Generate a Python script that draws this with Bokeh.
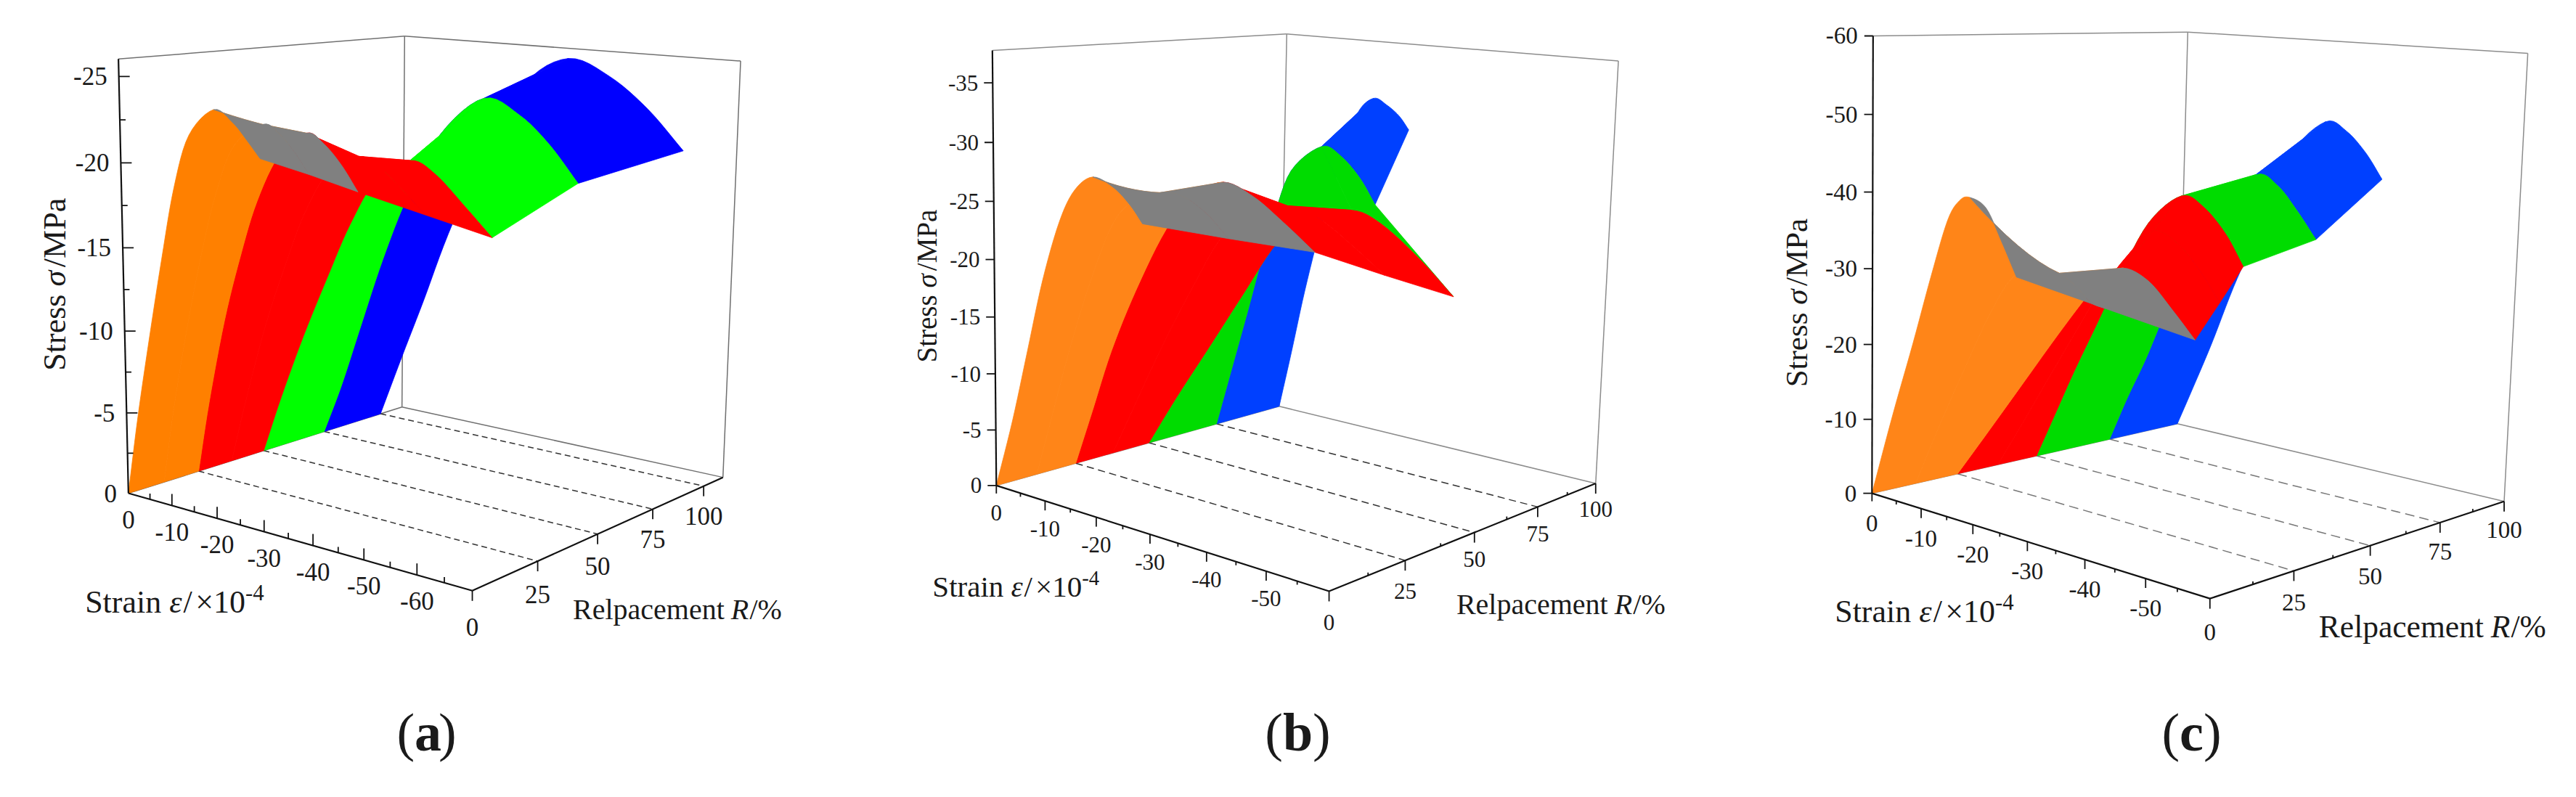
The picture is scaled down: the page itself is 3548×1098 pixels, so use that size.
import numpy as np
from bokeh.plotting import figure
from bokeh.models import Range1d
from bokeh.embed import file_html
from bokeh.resources import INLINE
from bokeh.core.properties import value

# ---------------- data ----------------
replacement_levels = [0, 12.5, 25, 37.5, 50, 75, 100]
peak_index = 6

strain_a = [[0, -2.6, -5.5, -8.7, -11.7, -15.1, -20.4, -24.3, -27.2, -29.8],
            [0, -2.5, -5.8, -9.3, -12.7, -16.8, -22.9, -26.2, -29.5, -32.3],
            [0, -2.7, -6.5, -10.3, -14.0, -18.8, -24.6, -28.2, -31.8, -35.1],
            [0, -3.5, -8.0, -12.6, -16.9, -22.2, -28.5, -32.8, -37.6, -42.0],
            [0, -4.3, -9.5, -15.0, -19.8, -25.6, -32.4, -37.4, -43.5, -48.9],
            [0, -4.2, -8.7, -13.6, -19.0, -26.0, -35.0, -42.2, -48.3, -54.0],
            [0, -5.1, -10.1, -15.6, -23.3, -31.8, -40.7, -49.0, -56.7, -63.7]]
stress_a = [[0, -4.9, -9.7, -14.7, -19.0, -22.1, -23.7, -23.1, -22.2, -21.3],
            [0, -4.7, -9.8, -14.5, -18.3, -21.3, -22.7, -22.3, -21.3, -20.2],
            [0, -4.6, -10.0, -14.2, -17.6, -20.5, -22.0, -21.5, -20.4, -19.0],
            [0, -4.2, -9.1, -13.2, -16.6, -19.4, -20.5, -20.0, -18.8, -17.6],
            [0, -3.9, -8.2, -12.3, -15.7, -18.8, -20.1, -19.5, -17.8, -16.2],
            [0, -3.5, -7.8, -12.4, -16.7, -20.9, -23.4, -22.6, -21.0, -18.9],
            [0, -4.4, -8.6, -13.4, -19.1, -23.8, -25.6, -24.7, -22.9, -20.6]]

strain_b = [[0, -3.5, -6.6, -9.7, -13.0, -15.9, -19.3, -23.1, -26.1, -28.3],
            [0, -3.2, -6.7, -10.7, -15.1, -19.0, -24.0, -28.0, -32.3, -36.1],
            [0, -3.4, -7.3, -12.1, -17.8, -22.8, -28.2, -33.5, -38.7, -44.1],
            [0, -4.5, -9.7, -15.2, -21.3, -26.8, -33.0, -38.3, -44.1, -49.6],
            [0, -5.7, -12.2, -18.4, -24.9, -30.8, -37.9, -43.1, -49.6, -55.2],
            [0, -3.3, -6.2, -8.5, -11.0, -14.3, -20.0, -23.6, -27.3, -30.2],
            [0, -2.4, -4.9, -8.0, -11.5, -14.5, -17.6, -20.2, -22.6, -24.5]]
stress_b = [[0, -6.3, -12.7, -19.1, -24.3, -27.1, -28.4, -27.8, -26.6, -25.3],
            [0, -5.7, -11.9, -18.1, -23.6, -25.9, -27.0, -27.0, -25.9, -24.2],
            [0, -5.2, -11.2, -17.1, -22.9, -26.1, -27.7, -26.9, -25.2, -23.2],
            [0, -5.1, -10.9, -16.5, -22.1, -24.6, -25.6, -25.0, -23.2, -21.2],
            [0, -5.1, -10.6, -15.9, -21.3, -23.8, -25.1, -24.3, -21.9, -19.3],
            [0, -6.4, -12.0, -16.6, -21.2, -26.0, -28.6, -28.0, -26.2, -24.0],
            [0, -6.0, -12.5, -19.4, -25.7, -30.6, -32.3, -31.8, -30.9, -29.7]]

strain_c = [[0, -4.2, -8.2, -11.6, -14.7, -16.9, -18.8, -21.8, -24.6, -27.4],
            [0, -5.0, -10.1, -14.8, -18.8, -23.3, -27.1, -30.2, -32.7, -35.2],
            [0, -6.3, -12.7, -18.3, -23.3, -27.1, -30.9, -35.3, -39.5, -43.3],
            [0, -5.0, -10.0, -14.9, -19.4, -24.4, -28.8, -33.0, -37.1, -40.6],
            [0, -3.6, -7.3, -11.5, -15.5, -21.0, -26.8, -30.7, -34.7, -37.9],
            [0, -3.5, -7.0, -10.6, -14.6, -20.0, -26.9, -30.8, -34.3, -37.8],
            [0, -3.1, -6.6, -10.6, -15.1, -20.9, -26.9, -30.7, -34.3, -37.3]]
stress_c = [[0, -11.3, -21.4, -30.4, -37.9, -40.6, -41.2, -40.2, -36.5, -32.4],
            [0, -9.2, -18.0, -25.7, -30.6, -32.3, -32.1, -30.8, -29.2, -28.8],
            [0, -7.2, -14.6, -21.1, -26.7, -30.6, -32.5, -31.4, -28.3, -25.2],
            [0, -6.9, -14.0, -20.9, -27.1, -32.6, -36.3, -35.3, -32.2, -28.6],
            [0, -6.6, -13.4, -20.6, -27.5, -35.9, -40.1, -39.1, -36.0, -32.1],
            [0, -6.9, -13.2, -20.5, -27.7, -37.1, -42.0, -40.9, -37.9, -34.3],
            [0, -6.3, -13.6, -22.7, -31.7, -43.5, -48.6, -47.6, -44.8, -41.4]]

strain_ticks = {'a': [0, -10, -20, -30, -40, -50, -60], 'b': [0, -10, -20, -30, -40, -50], 'c': [0, -10, -20, -30, -40, -50]}
stress_ticks = {'a': [0, -5, -10, -15, -20, -25], 'b': [0, -5, -10, -15, -20, -25, -30, -35], 'c': [0, -10, -20, -30, -40, -50, -60]}
replacement_ticks = [0, 25, 50, 75, 100]
band_colors = {'a': ['#FF8000', '#FF8000', '#FF0000', '#FF0000', '#00FF00', '#0000FF'],
               'b': ['#FF8518', '#FF8518', '#FF0000', '#FF0000', '#00DC00', '#0040FF'],
               'c': ['#FF8518', '#FF8518', '#FF0000', '#FF0000', '#00DC00', '#0040FF']}
back_face_color = '#808080'

# ---------------- view of each 3-D panel ----------------
PANELS = {
 'a': dict(off=0, kx=1.329, ky=1.427, strain=strain_a, stress=stress_a, emin=-70, rmax=110, smax=-26,
  anchors=[(0,0,0,233,968),(-10,0,0,313,992),(-20,0,0,398,1018),(-30,0,0,484,1045),(-40,0,0,574,1072),(-50,0,0,669,1101),(-60,0,0,769,1132),(-70,0,0,860,1160),
           (-70,25,0,979,1103),(-70,50,0,1091,1049),(-70,75,0,1194,1000),(-70,100,0,1287,955),(-70,110,0,1324,938),
           (0,25,0,362,925),(0,50,0,483,885),(0,75,0,595,848),(0,100,0,695,812),(0,110,0,735,800),
           (0,0,-5,229,810),(0,0,-10,226,650),(0,0,-15,223,487),(0,0,-20,220,320),(0,0,-25,218,150),(0,0,-26,217,115),
           (0,110,-26,740,72),(-70,110,-26,1355,117)],
  dashes=[25, 50, 75, 100], dash="8 5", dash_color="#333333", back="#707070", tick_size=35, s_gap=16, e_dy=36,
  r_dy=[50, 46, 44, 42, 41], r_minor=0, s_major=15, s_minor=8, e_major=-16, e_minor=-8, e_zero=0,
  stress_title=(97, 728, 44), strain_title=(155, 1180, 44), repl_title=(1048, 1195, 40), caption=('a', 587)),
 'b': dict(off=1180, kx=1.329, ky=1.427, strain=strain_b, stress=stress_b, emin=-60, rmax=100, smax=-37.7,
  anchors=[(0,0,0,255,955),(-10,0,0,345,985),(-20,0,0,438,1018),(-30,0,0,537,1050),(-40,0,0,640,1085),(-50,0,0,748,1123),(-60,0,0,862,1160),
           (-60,25,0,1003,1100),(-60,50,0,1130,1047),(-60,75,0,1245,995),(-60,100,0,1353,950),
           (0,25,0,400,910),(0,50,0,535,870),(0,75,0,658,832),(0,100,0,772,797),
           (0,0,-5,254,845),(0,0,-10,253,735),(0,0,-15,252,622),(0,0,-20,251,508),(0,0,-25,250,393),(0,0,-30,249,278),(0,0,-35,248.5,162),(0,0,-37.7,248,100),
           (0,100,-37.7,785,67),(-60,100,-37.7,1395,120)],
  dashes=[25, 50, 75], dash="10 6", dash_color="#333333", back="#8c8c8c", tick_size=31, s_gap=20, e_dy=38,
  r_dy=[43, 42, 37, 37, 35], r_minor=-4, s_major=-12, s_minor=0, e_major=13, e_minor=5, e_zero=11,
  stress_title=(125, 712, 39), strain_title=(138, 1150, 41), repl_title=(1097, 1185, 40), caption=('b', 1787)),
 'c': dict(off=2360, kx=1.32, ky=1.417, strain=strain_c, stress=stress_c, emin=-60, rmax=100, smax=-60,
  anchors=[(0,0,0,288,962),(-10,0,0,378,992),(-20,0,0,470,1025),(-30,0,0,570,1060),(-40,0,0,675,1095),(-50,0,0,785,1128),(-60,0,0,902,1165),
           (-60,25,0,1055,1112),(-60,50,0,1193,1065),(-60,75,0,1320,1020),(-60,100,0,1437,978),
           (0,25,0,443,923),(0,50,0,587,888),(0,75,0,720,857),(0,100,0,842,827),
           (0,0,-10,288,817),(0,0,-20,288,670),(0,0,-30,288,523),(0,0,-40,288,375),(0,0,-50,289,223),(0,0,-60,290,70),
           (0,100,-60,862,62),(-60,100,-60,1480,103)],
  dashes=[25, 50, 75], dash="13 7", dash_color="#777777", back="#8c8c8c", tick_size=33, s_gap=21, e_dy=41,
  r_dy=[46, 44, 42, 40, 39], r_minor=-4, s_major=-12, s_minor=0, e_major=13, e_minor=5, e_zero=11,
  stress_title=(148, 755, 43), strain_title=(220, 1190, 44), repl_title=(1100, 1220, 43.5), caption=('c', 3018)),
}

FONT = value("Liberation Serif")
WIDTHS = {'S': .556, 't': .278, 'r': .333, 'a': .444, 'i': .278, 'n': .5, ' ': .25, 'e': .444, 's': .389, 'l': .278,
          'p': .5, 'c': .444, 'm': .778, 'M': .889, 'P': .556, 'R': .64, '/': .278, '×': .564, '-': .333, '%': .833,
          'σ': .6, 'ε': .44, '(': .333, ')': .333, 'b': .556}
BASELINE_SHIFT = 0.29   # the rendered alphabetic baseline sits this many em lower

def twidth(txt):
    return sum(WIDTHS.get(ch, .5) for ch in txt)

def calibrate(pts):
    A, b = [], []
    for (e, r, s, x, y) in pts:
        A.append([e, r, s, 1, 0, 0, 0, 0, -x*e, -x*r, -x*s]); b.append(x)
        A.append([0, 0, 0, 0, e, r, s, 1, -y*e, -y*r, -y*s]); b.append(y)
    m = np.linalg.lstsq(np.array(A, float), np.array(b, float), rcond=None)[0]
    return np.append(m, 1).reshape(3, 4)

def spline(pts, m=6):
    """Catmull-Rom through the projected curve points, m sub-steps per segment."""
    pts = np.array(pts, float)
    q = np.vstack([2*pts[0]-pts[1], pts, 2*pts[-1]-pts[-2]])
    out = []
    for i in range(1, len(q)-2):
        for t in np.linspace(0, 1, m, endpoint=False):
            out.append(0.5*((2*q[i]) + (q[i+1]-q[i-1])*t + (2*q[i-1]-5*q[i]+4*q[i+1]-q[i+2])*t**2
                            + (3*q[i]-q[i-1]-3*q[i+1]+q[i+2])*t**3))
    out.append(pts[-1])
    return np.array(out), m

p = figure(width=3532, height=1082, x_range=Range1d(0, 3532), y_range=Range1d(1082, 0),
           toolbar_location=None, output_backend="svg", min_border=0, outline_line_color=None,
           background_fill_color="white")
p.axis.visible = False
p.grid.visible = False

def rich(x, y, runs, size, vertical=False):
    """Runs of (text, style, scale, raise) laid out from (x, y) on one baseline."""
    pos = 0.0
    for txt, style, scale, rise in runs:
        sz = size*scale
        if vertical:
            px_, py_, ang = x - rise*size - BASELINE_SHIFT*sz, y - pos, np.pi/2
        else:
            px_, py_, ang = x + pos, y - rise*size - BASELINE_SHIFT*sz, 0
        p.text([px_], [py_], text=[txt], angle=ang, text_font=FONT, text_font_style=style,
               text_font_size=f"{sz:.1f}px", text_color="#1a1a1a", text_baseline="alphabetic", text_align="left")
        pos += twidth(txt)*sz

def hline(x, y, d):
    p.line([x, x+d], [y, y], line_color="#111111", line_width=1.8)

def vline(x, y, d):
    p.line([x, x], [y, y+d], line_color="#111111", line_width=1.8)

def fill(poly, col):
    p.patch(poly[:, 0], poly[:, 1], fill_color=col, line_color=col, line_width=0.8)

for key, c in PANELS.items():
    conv = lambda zx, zy, c=c: (c['off'] + zx/c['kx'], zy/c['ky'])
    P = calibrate([(e, r, s, *conv(zx, zy)) for e, r, s, zx, zy in c['anchors']])
    def proj(e, r, s, P=P):
        v = P @ np.array([e, r, s, 1.0])
        return v[0]/v[2], v[1]/v[2]
    def seg(a, b, color, width, dash="solid"):
        pa, pb = proj(*a), proj(*b)
        p.line([pa[0], pb[0]], [pa[1], pb[1]], line_color=color, line_width=width, line_dash=dash)

    emin, rmax, smax = c['emin'], c['rmax'], c['smax']
    # box back faces
    bk = c['back']
    seg((0, rmax, 0), (0, rmax, smax), bk, 1.5)
    seg((0, 0, smax), (0, rmax, smax), bk, 1.5)
    seg((0, rmax, smax), (emin, rmax, smax), bk, 1.5)
    seg((emin, rmax, 0), (emin, rmax, smax), bk, 1.5)
    seg((0, rmax, 0), (emin, rmax, 0), bk, 1.5)
    seg((0, 0, 0), (0, rmax, 0), bk, 1.5)
    for r in c['dashes']:
        seg((0, r, 0), (emin, r, 0), c['dash_color'], 1.5, c['dash'])

    # surface, painted from the far replacement level to the near one
    smooth = []
    for es, ss, r in zip(c['strain'], c['stress'], replacement_levels):
        smooth.append(spline([proj(e, r, s) for e, s in zip(es, ss)]))
    cut = peak_index*smooth[0][1]
    pre, post = slice(0, cut+1), slice(cut, None)
    for j in range(len(replacement_levels)-2, 1, -1):
        A, B = smooth[j][0], smooth[j+1][0]
        for slc in (pre, post):
            fill(np.vstack([A[slc], B[slc][::-1]]), band_colors[key][j])
    # nearest band: first strip bent through the first three levels so its crest line curves;
    # all of the rising face is painted first, the grey falling face over it
    C0, C1, C2 = smooth[0][0], smooth[1][0], smooth[2][0]
    def bent(u):
        return 2*(u-.5)*(u-1)*C0 - 4*u*(u-1)*C1 + 2*u*(u-.5)*C2
    strip = np.array([bent(u) for u in np.linspace(0, .5, 9)])
    A, B = smooth[1][0], smooth[2][0]
    fill(np.vstack([A[pre], B[pre][::-1]]), band_colors[key][1])
    fill(np.vstack([strip[0][pre], strip[1:, cut], strip[-1][pre][::-1][1:]]), band_colors[key][0])
    fill(np.vstack([A[post], B[post][::-1]]), back_face_color)
    fill(np.vstack([strip[0][post][::-1], strip[1:, cut], strip[-1][post][1:]]), back_face_color)

    # front axes
    seg((0, 0, 0), (0, 0, smax), "#111111", 2.2)
    seg((0, 0, 0), (emin, 0, 0), "#111111", 2.2)
    seg((emin, 0, 0), (emin, rmax, 0), "#111111", 2.2)

    # stress ticks
    for sv in stress_ticks[key]:
        x, y = proj(0, 0, sv)
        if sv != 0 or c['s_major'] < 0:
            hline(x, y, c['s_major'])
        p.text([x - c['s_gap']], [y], text=[str(sv)], text_font=FONT, text_font_size=f"{c['tick_size']}px",
               text_color="#1a1a1a", text_align="right", text_baseline="middle")
    if c['s_minor']:
        st = stress_ticks[key][1] - stress_ticks[key][0]
        for sv in stress_ticks[key]:
            sm = sv + st/2
            if sm > smax:
                x, y = proj(0, 0, sm)
                hline(x, y, c['s_minor'])
    # strain ticks
    for ev in strain_ticks[key]:
        x, y = proj(ev, 0, 0)
        if ev != 0:
            vline(x, y, c['e_major'])
        elif c['e_zero']:
            vline(x, y, c['e_zero'])
        xm, ym = proj(ev - 5, 0, 0)
        vline(xm, ym, c['e_minor'])
        p.text([x], [y + c['e_dy']], text=[str(ev)], text_font=FONT, text_font_size=f"{c['tick_size']}px",
               text_color="#1a1a1a", text_align="center", text_baseline="middle")
    # replacement ticks
    for rv, dy in zip(replacement_ticks, c['r_dy']):
        x, y = proj(emin, rv, 0)
        vline(x, y, 14)
        p.text([x], [y + dy], text=[str(rv)], text_font=FONT, text_font_size=f"{c['tick_size']}px",
               text_color="#1a1a1a", text_align="center", text_baseline="middle")
        if c['r_minor'] and rv < 100:
            xm, ym = proj(emin, rv + 12.5, 0)
            vline(xm, ym, c['r_minor'])

    # titles
    zx, zy, sz = c['stress_title']
    bx, by = conv(zx, zy)
    rich(bx + 0.33*sz, by, [("Stress ", "normal", 1, 0), ("σ", "italic", 1, 0), ("/MPa", "normal", 1, 0)], sz, vertical=True)
    zx, zy, sz = c['strain_title']
    bx, by = conv(zx, zy)
    rich(bx, by + 0.33*sz, [("Strain ", "normal", 1, 0), ("ε", "italic", 1, 0), ("/", "normal", 1, 0), (" ", "normal", .4, 0),
                            ("×10", "normal", 1, 0), ("-4", "normal", .7, .38)], sz)
    zx, zy, sz = c['repl_title']
    bx, by = conv(zx, zy)
    rich(bx, by + 0.33*sz, [("Relpacement ", "normal", 1, 0), ("R", "italic", 1, 0), ("/%", "normal", 1, 0)], sz)

    letter, cx = c['caption']
    size = 74
    w = (.333*2 + WIDTHS.get(letter, .5))*size
    rich(cx - w/2, 1030, [("(", "normal", 1, 0), (letter, "bold", 1, 0), (")", "normal", 1, 0)], size)

with open("out.html", "w") as f:
    f.write(file_html(p, INLINE))
